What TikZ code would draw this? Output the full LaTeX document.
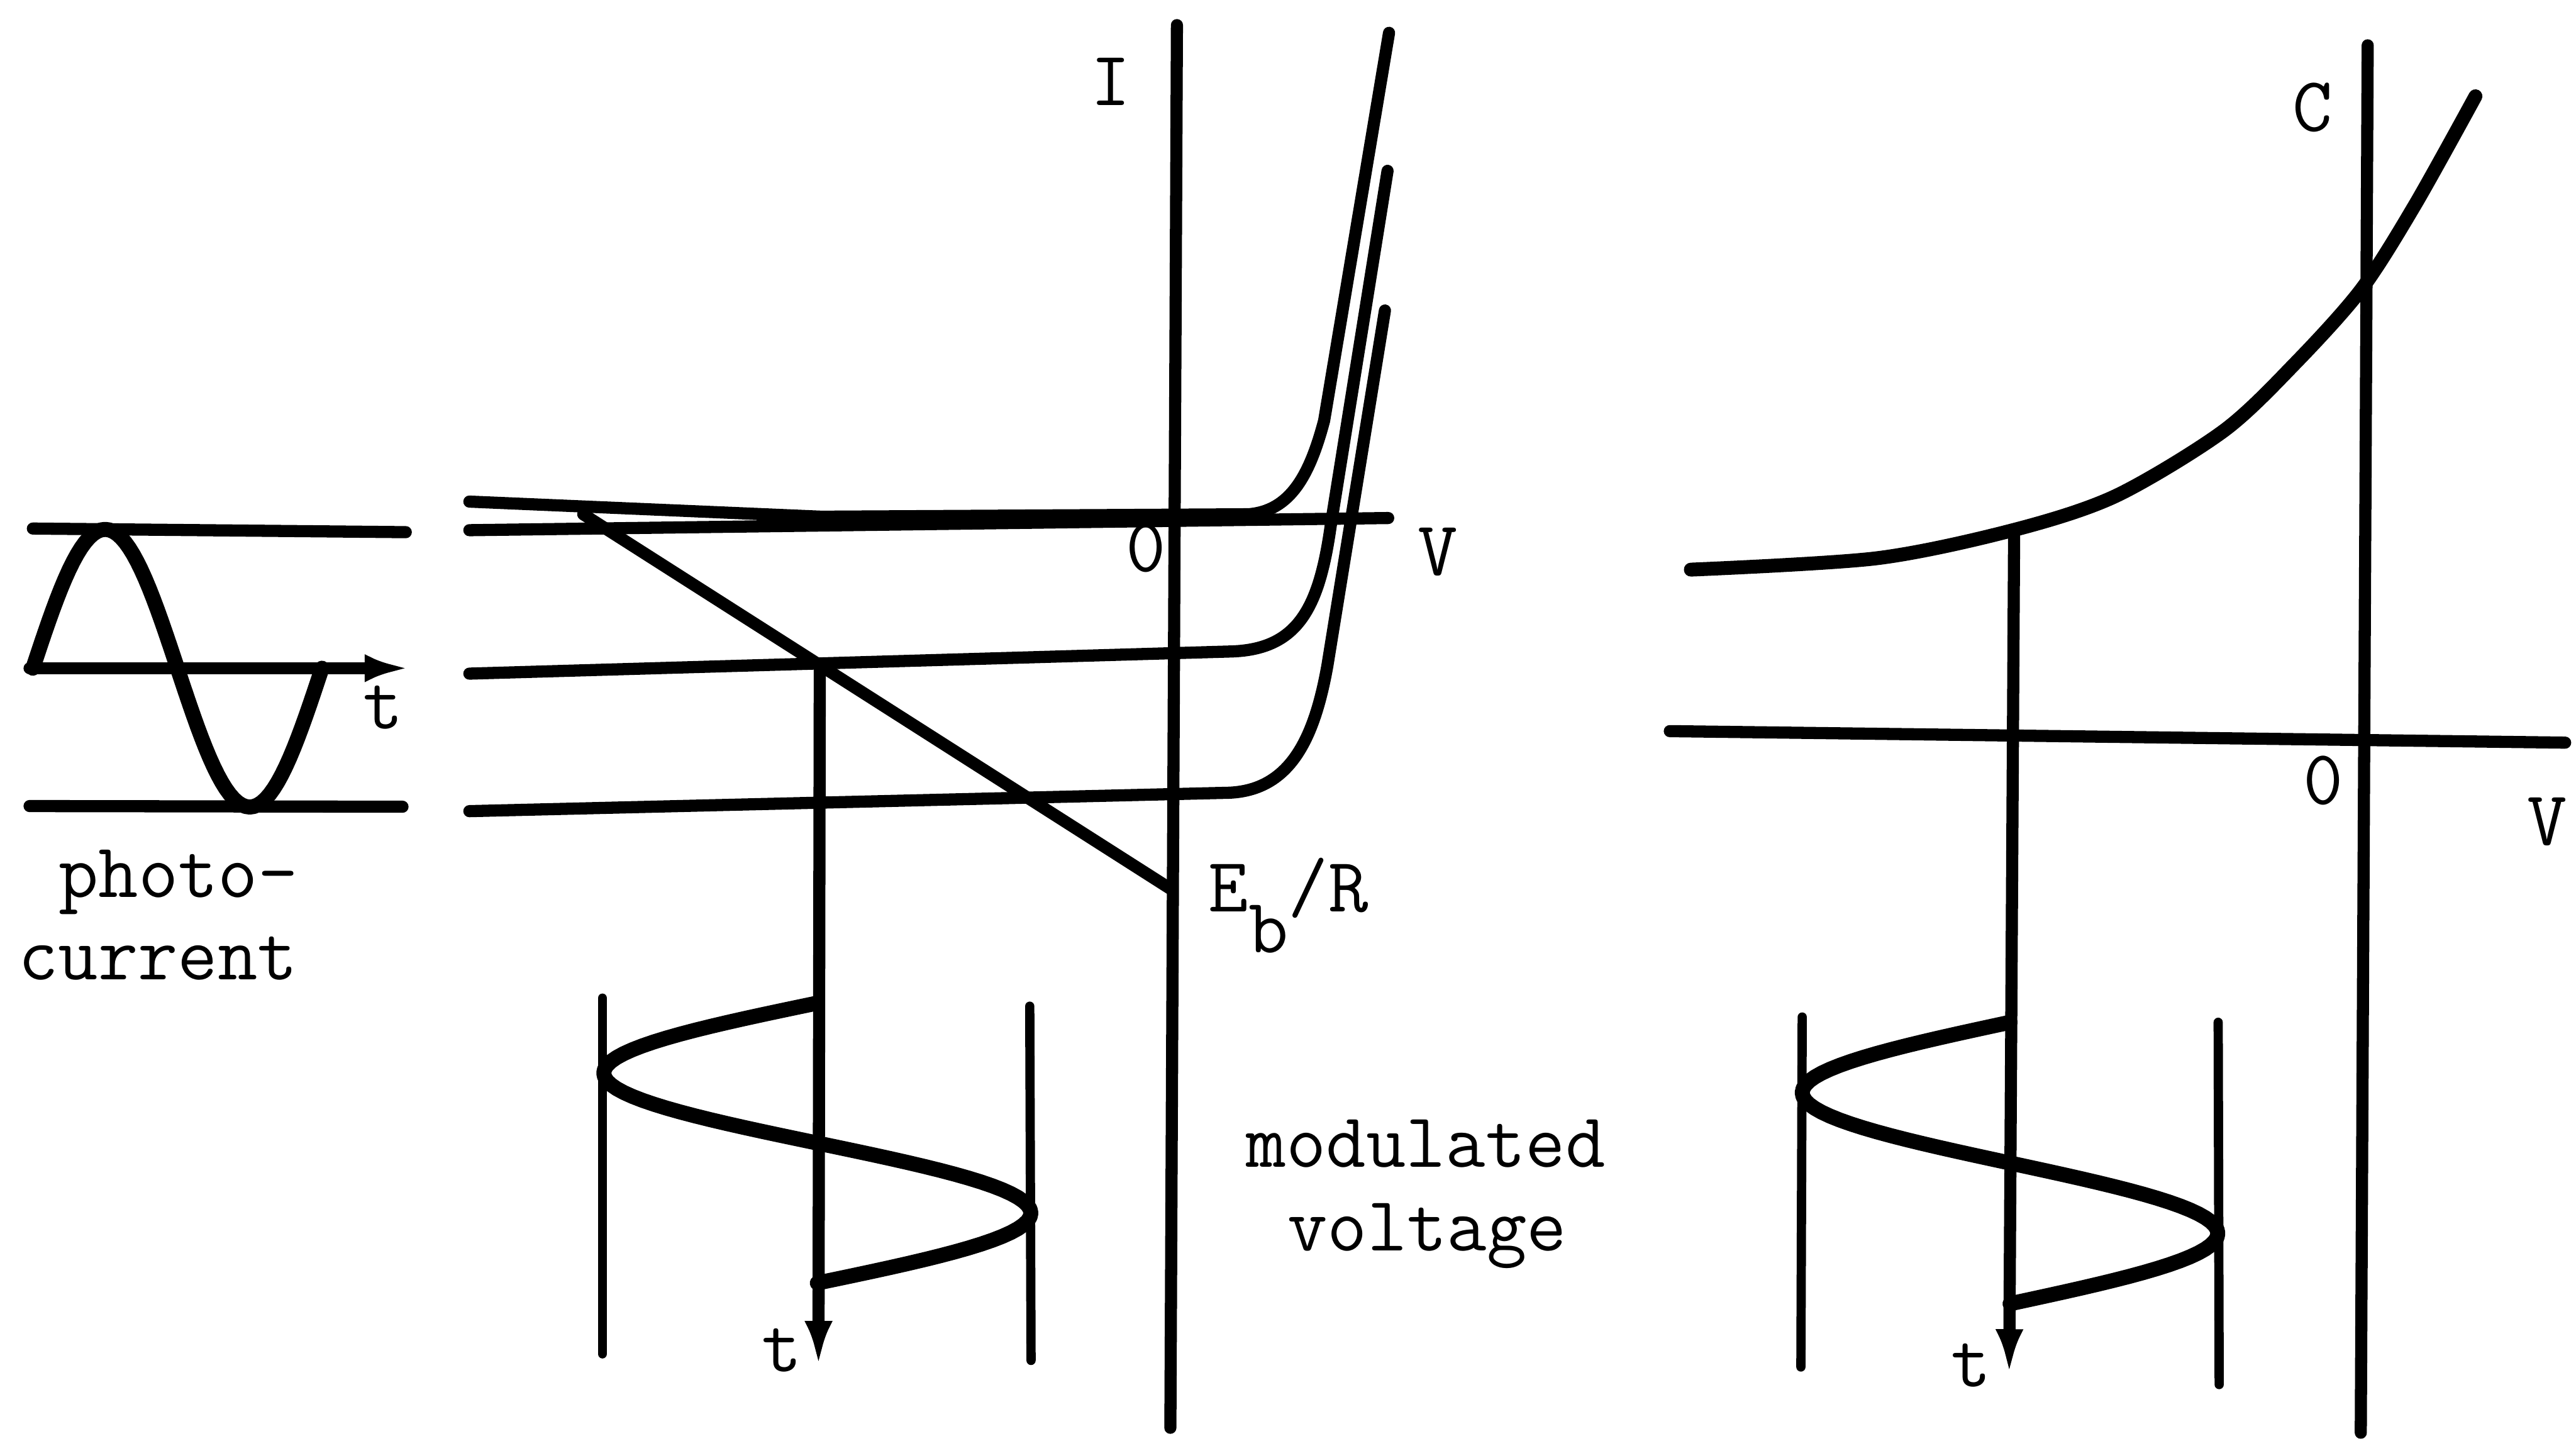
\documentclass[tikz,border=0pt]{standalone}
\usepackage{fontspec}
\usetikzlibrary{arrows.meta}
\begin{document}
\begin{tikzpicture}[x=0.01cm,y=-0.01cm,
  ln/.style={line width=2.1pt, line cap=round, line join=round},
  wave/.style={line width=2.6pt, line cap=round, line join=round},
  bound/.style={line width=1.6pt, line cap=round},
  arr/.style={-{Latex[length=0.27cm,width=0.17cm]}},
  lbl/.style={font=\fontsize{13.4}{16}\selectfont\ttfamily, inner sep=0pt},
]
\useasboundingbox (0,0) rectangle (1568,877);

% ---------- left panel: photocurrent ----------
\coordinate (Lt1) at (20,321.7);   \coordinate (Lt2) at (247,323.9);
\coordinate (La1) at (18,406.7);   \coordinate (La2) at (249,406.7);
\coordinate (Lb1) at (18,490.6);   \coordinate (Lb2) at (245,491);
\draw[ln] (Lt1) -- (Lt2);
\draw[ln,arr] (La1) -- (La2);
\draw[ln] (Lb1) -- (Lb2);
\draw[wave] plot[domain=0:360,samples=73,variable=\p] ({20+0.48889*\p},{406.7-84.5*sin(\p)});
\node[lbl] (lt1) at (233.3,430.6) {t};
\node[lbl,anchor=base west] (lphoto) at (35,546) {photo-};
\node[lbl,anchor=base west] (lcurrent) at (10.5,596.2) {current};

% ---------- middle panel: I-V ----------
\coordinate (Itop) at (716.4,15.3); \coordinate (Ibot) at (712.4,869);
\draw[ln] (Itop) -- (Ibot);
\coordinate (Vl) at (285.7,322.7); \coordinate (Vr) at (845,315.3);
\draw[ln] (Vl) -- (Vr);
% three characteristic curves
\draw[ln] (285.7,305.3) -- (500,314.5) -- (760,313)
   .. controls (785,311) and (797,290) .. (806,256) -- (845.5,20);
\draw[ln] (285.7,410) -- (750,396.5)
   .. controls (790,395) and (803,370) .. (810,320) -- (844.6,104);
\draw[ln] (285.7,493.7) -- (748,482.5)
   .. controls (785,481) and (800,450) .. (808,405) -- (843,189);
% load line
\coordinate (LL1) at (355,313); \coordinate (LL2) at (712.5,541);
\draw[ln] (LL1) -- (LL2);
% time axis of voltage
\coordinate (Mt1) at (499,404); \coordinate (Mt2) at (498.2,831);
\draw[ln,arr] (Mt1) -- (Mt2);
\draw[bound] (366.7,607.5) -- (366.7,824);
\draw[bound] (626.8,612.4) -- (627.6,828);
\draw[wave] plot[domain=0:360,samples=73,variable=\p] ({497.5-130*sin(\p)},{610.5+0.47333*\p});

\node[lbl] (lI) at (676.3,49.6) {I};
\node[lbl] (lO1) at (697.5,333.5) {0};
\node[lbl] (lV1) at (875,336) {V};
\node[lbl,anchor=base west] (lEb) at (735,554.8) {E\raisebox{-0.25cm}{b}/R};
\node[lbl] (lt2) at (476,822) {t};
\node[lbl,anchor=base west] (lmod) at (758,710.4) {modulated};
\node[lbl,anchor=base west] (lvolt) at (783,761.3) {voltage};

% ---------- right panel: C-V ----------
\coordinate (Ctop) at (1441.2,27.6); \coordinate (Cbot) at (1437,872);
\draw[ln] (Ctop) -- (Cbot);
\coordinate (RV1) at (1016.4,445); \coordinate (RV2) at (1561.4,452);
\draw[ln] (RV1) -- (RV2);
\draw[line width=2.4pt,line cap=round] plot[smooth] coordinates {(1029.2,346.7) (1142.2,339.8) (1226,322.5) (1288,301.8) (1353.6,262.2) (1397.4,220.8) (1437.5,175.9) (1470.3,124.2) (1506.8,58.6)};
\coordinate (Rt1) at (1226,323); \coordinate (Rt2) at (1223,836);
\draw[ln,arr] (Rt1) -- (Rt2);
\draw[bound] (1097,619) -- (1096.2,832);
\draw[bound] (1350.2,622.2) -- (1350.8,842.7);
\draw[wave] plot[domain=0:360,samples=73,variable=\p] ({1223.5-126.5*sin(\p)},{622.2+0.47583*\p});

\node[lbl] (lC) at (1407.5,65.5) {C};
\node[lbl] (lO2) at (1414,475) {0};
\node[lbl] (lV2) at (1550.5,500) {V};
\node[lbl] (lt3) at (1200,831) {t};
\end{tikzpicture}
\end{document}
